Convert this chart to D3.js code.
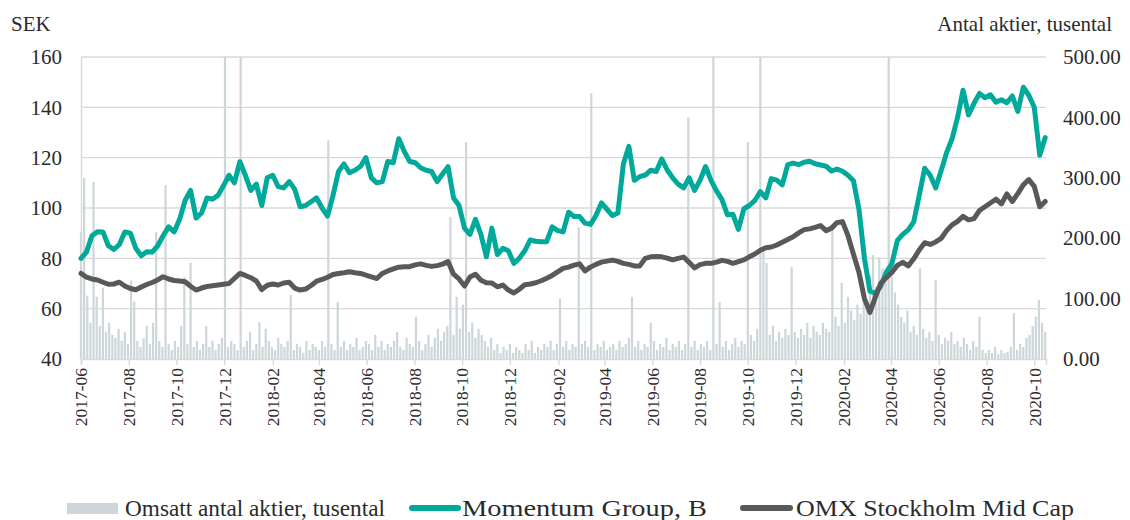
<!DOCTYPE html>
<html>
<head>
<meta charset="utf-8">
<script src="https://cdn.jsdelivr.net/npm/d3@7"></script>
<style>
body{margin:0;background:#fff;}
svg text{font-family:"Liberation Serif","DejaVu Serif",serif;fill:#2b2b2b;}
</style>
</head>
<body>
<svg id="chart" width="1130" height="520"></svg>
<script>
// first and last day of the x range, weekly prices start on startDay
let startDay="2017-06-01", endDay="2020-10-16";
let tickMonths=["2017-06","2017-08","2017-10","2017-12","2018-02","2018-04","2018-06","2018-08","2018-10","2018-12",
  "2019-02","2019-04","2019-06","2019-08","2019-10","2019-12","2020-02","2020-04","2020-06","2020-08","2020-10"];
let sekTicks=[40,60,80,100,120,140,160];
let volTicks=[0,100,200,300,400,500];
let seriesNames=["Omsatt antal aktier, tusental","Momentum Group, B","OMX Stockholm Mid Cap"];

// weekly closes, SEK
let momentum=[80,82.5,89,90.6,90.5,85,83.5,85.5,90.5,90,
84,81,82.6,82.5,85,89,92.5,90.5,95.5,103,
107,96,98,104,103.5,105,108.8,113,110,118.4,
113,107,109.5,101,112,113,108.5,108,110.5,107.5,
100.5,101,102.5,104,100,96.8,105,114.5,117.5,114,
115,116.5,120,112,110,110.5,118.5,118,127.5,122.5,
118.5,118,116,115,114.5,110.5,113.5,116.4,104,101,
92,89.5,95.5,89.5,80.6,92,81.5,84,83,78,
80,83,87.3,86.8,86.6,86.6,92.5,91,90.5,98.3,
96.6,96.6,94,93.5,97,102,99.5,97,98,117.5,
124.5,111,112.5,113.1,115,114.5,119.5,115.1,112,109.5,
108,112,107,111,116.5,111,106.8,103.3,97.3,97.5,
91.5,99.7,101,103,106.5,104,111.7,111.1,109.2,117.2,
117.8,117.2,118.2,118.6,117.6,117.1,116.6,114.7,115.5,114.6,
113,110.8,99.5,80,67,66.2,69,74.5,77.8,87,
89.5,91.3,94.5,105,115.8,113,108,114.8,122,127.5,
136,146.8,137,141.6,145.5,143.8,145,142,143,141.8,
144.5,138.4,148,144.8,140,121,128];

// index rebased to the stock, weekly
let omx=[74,72.5,71.8,71.4,70.5,69.7,69.8,70.5,69,68,
67.5,68.6,69.6,70.4,71.4,72.7,71.8,71.2,71,70.7,
68.9,67.4,68.2,68.8,69.1,69.4,69.7,70,72,74,
73.2,72.3,71,67.6,69.3,69.8,69.4,70.2,70.5,68.2,
67.4,67.8,69.2,70.9,71.6,72.5,73.6,74,74.3,74.7,
74.3,74,73.3,72.6,72,74,75,75.8,76.5,76.7,
76.7,77.4,77.8,77.2,76.8,77.1,77.7,78.7,73.7,71.8,
69,72.6,73.7,71.3,70.3,70.2,68.7,69.4,67.4,66.2,
67.7,69.5,69.8,70.3,71.1,72.1,73.2,74.6,76,76.5,
77.3,77.8,75,76.5,77.6,78.5,78.9,79.3,78.8,78,
77.6,77,77,80,80.6,80.7,80.6,80.1,79.4,80,
80.5,78.4,76.2,77.5,78,78,78.5,79.2,78.8,78,
78.7,79.4,80.6,81.7,83.2,84.2,84.5,85.3,86.4,87.5,
88.6,90.1,91.4,91.7,92.3,93,91,92,94.2,94.6,
89,81.6,74.5,64,58.5,64.6,70.2,72.3,74.4,77.2,
78.4,77,79.8,83.3,86.2,85.5,86.5,87.9,91,93.3,
94.7,96.7,95.3,95.8,99,100.5,102,103.5,101.6,105.6,
102.6,105.7,109.2,111.3,108.6,100.5,102.6];

// traded shares (thousands), one value per 4 days
let volume=[210,300,105,60,293,103,55,118,45,60,
40,35,50,30,45,25,130,95,30,20,
35,55,25,60,210,30,20,288,25,15,
30,20,55,136,25,159,20,30,15,25,
55,20,30,15,25,35,520,20,30,25,
15,520,20,30,45,15,25,61,20,50,
30,20,15,35,25,20,30,106,15,25,
20,10,30,15,25,20,15,30,20,362,
25,15,94,20,30,15,25,20,35,15,
20,30,25,15,40,20,30,15,25,20,
30,45,20,15,35,25,20,70,30,15,
25,40,20,35,50,30,45,55,235,40,
103,50,90,359,45,60,35,50,40,30,
20,35,15,25,10,20,15,25,10,20,
15,10,25,15,30,10,20,15,25,20,
30,15,25,100,20,30,15,25,20,218,
25,30,20,440,15,25,20,30,15,20,
25,15,30,20,25,35,103,20,30,15,
25,20,60,30,15,25,20,35,15,25,
20,30,15,25,400,20,30,15,25,20,
30,15,520,25,94,20,30,15,25,35,
20,30,25,359,40,30,50,520,180,159,
40,55,30,45,35,50,40,152,45,35,
50,40,60,35,55,45,40,60,50,45,
214,70,55,126,60,103,80,65,90,75,
110,95,140,172,120,168,150,130,520,136,
110,90,70,60,80,45,55,40,150,50,
35,45,30,131,40,25,35,30,45,25,
30,20,35,25,15,30,20,70,15,10,
15,10,20,8,15,10,12,20,76,15,
25,20,35,40,55,70,98,60,45];

let teal="#00a99a", dark="#595959", volCol="#cdd6d9", grid="#d9d9d9";

let svg=d3.select("#chart");
let pLeft=81, pRight=1046, pTop=57, pBottom=359;

let parseDay=d3.timeParse("%Y-%m-%d");
let parseMonth=d3.timeParse("%Y-%m");
let t0=parseDay(startDay);

let x=d3.scaleTime().domain([t0,parseDay(endDay)]).range([pLeft,pRight]);
let yL=d3.scaleLinear().domain([40,160]).range([pBottom,pTop]);
let yR=d3.scaleLinear().domain([0,500]).range([pBottom,pTop]).clamp(true);

// horizontal grid
svg.append("g").selectAll("line").data(sekTicks.slice(1)).enter().append("line")
  .attr("x1",pLeft).attr("x2",pRight).attr("y1",d=>yL(d)).attr("y2",d=>yL(d))
  .attr("stroke",grid).attr("stroke-width",1.4);

// volume bars
let volData=volume.map((v,i)=>({date:d3.timeDay.offset(t0,4*i),v:v}));
svg.append("g").selectAll("rect").data(volData).enter().append("rect")
  .attr("x",d=>x(d.date)-1.1).attr("width",2.2)
  .attr("y",d=>yR(d.v)).attr("height",d=>pBottom-yR(d.v))
  .attr("fill",volCol);

// axes
let yAxisL=svg.append("g").attr("transform","translate("+pLeft+",0)")
  .call(d3.axisLeft(yL).tickValues(sekTicks).tickSize(0).tickPadding(19));
yAxisL.select(".domain").attr("stroke",grid).attr("stroke-width",1.4);
yAxisL.selectAll("text").style("font-size","21px").attr("fill","#2b2b2b");

let yAxisR=svg.append("g").attr("transform","translate("+pRight+",0)")
  .call(d3.axisRight(yR).tickValues(volTicks).tickFormat(d3.format(".2f")).tickSize(0).tickPadding(17));
yAxisR.select(".domain").remove();
yAxisR.selectAll("text").style("font-size","21px").attr("fill","#2b2b2b");

let xAxis=svg.append("g").attr("transform","translate(0,"+pBottom+")")
  .call(d3.axisBottom(x).tickValues(tickMonths.map(parseMonth)).tickFormat(d3.timeFormat("%Y-%m")).tickSize(6));
xAxis.select(".domain").attr("stroke",grid).attr("stroke-width",1.4);
xAxis.selectAll(".tick line").attr("stroke",grid).attr("stroke-width",1.4);
xAxis.selectAll("text").attr("transform","rotate(-90)").attr("x",-9).attr("y",0).attr("dy","0.33em")
  .style("text-anchor","end").style("font-size","17.5px").attr("fill","#2b2b2b");

// lines
let weekly=(arr)=>arr.map((v,i)=>({date:d3.timeDay.offset(t0,7*i),v:v}));
let line=d3.line().x(d=>x(d.date)).y(d=>yL(d.v));
svg.append("path").datum(weekly(momentum)).attr("d",line)
  .attr("fill","none").attr("stroke",teal).attr("stroke-width",5).attr("stroke-linejoin","round").attr("stroke-linecap","round");
svg.append("path").datum(weekly(omx)).attr("d",line)
  .attr("fill","none").attr("stroke",dark).attr("stroke-width",5).attr("stroke-linejoin","round").attr("stroke-linecap","round");

// axis titles
svg.append("text").text("SEK").attr("x",11).attr("y",31).style("font-size","21px");
svg.append("text").text("Antal aktier, tusental").attr("x",1112).attr("y",31).style("font-size","21px").style("text-anchor","end");

// legend
let lg=svg.append("g");
lg.append("rect").attr("x",67).attr("y",503).attr("width",51).attr("height",11).attr("fill",volCol);
lg.append("text").text(seriesNames[0]).attr("x",125).attr("y",516).style("font-size","23px")
  .attr("textLength",260).attr("lengthAdjust","spacingAndGlyphs");
lg.append("line").attr("x1",412).attr("x2",458).attr("y1",508).attr("y2",508).attr("stroke",teal).attr("stroke-width",6).attr("stroke-linecap","round");
lg.append("text").text(seriesNames[1]).attr("x",462).attr("y",516).style("font-size","23px")
  .attr("textLength",245).attr("lengthAdjust","spacingAndGlyphs");
lg.append("line").attr("x1",743).attr("x2",790).attr("y1",508).attr("y2",508).attr("stroke",dark).attr("stroke-width",6).attr("stroke-linecap","round");
lg.append("text").text(seriesNames[2]).attr("x",796).attr("y",516).style("font-size","23px")
  .attr("textLength",278).attr("lengthAdjust","spacingAndGlyphs");
</script>
</body>
</html>
